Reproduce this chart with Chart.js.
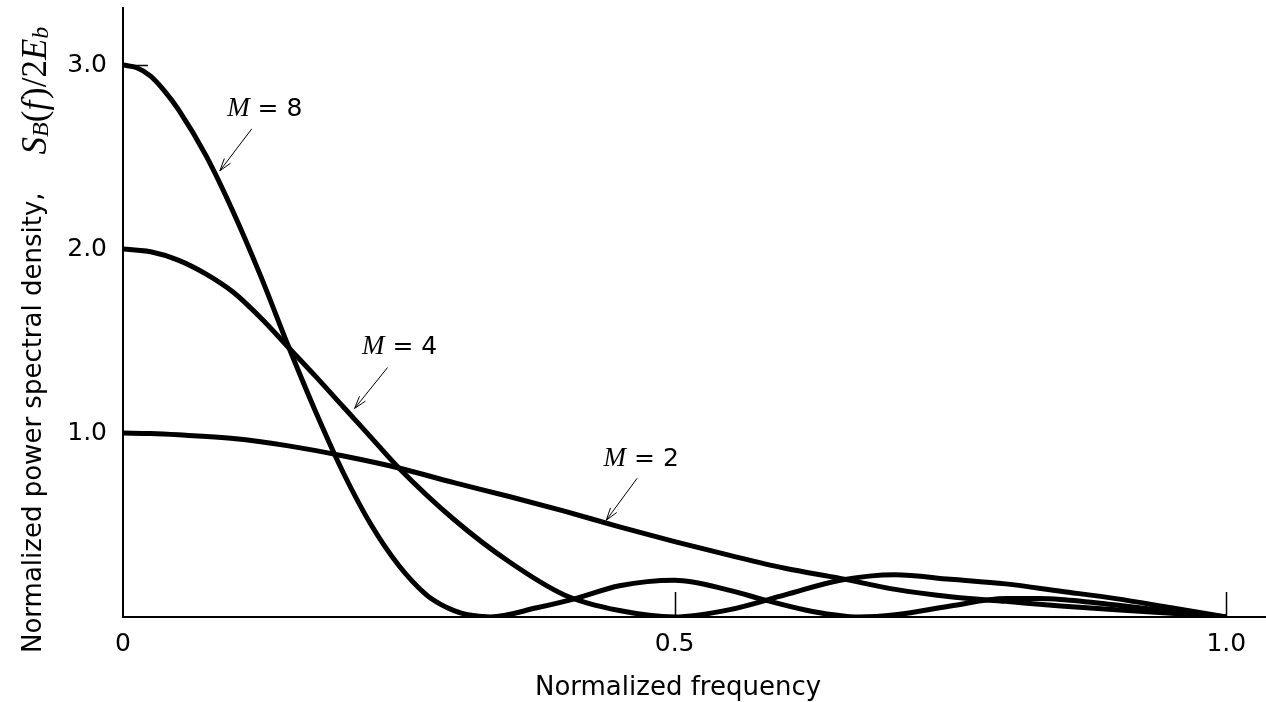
<!DOCTYPE html>
<html>
<head>
<meta charset="utf-8">
<script src="https://cdn.jsdelivr.net/npm/chart.js@4.4.1/dist/chart.umd.min.js"></script>
<style>
  html, body { margin: 0; padding: 0; background: #fff; }
  #psdChart { display: block; }
</style>
</head>
<body>
<canvas id="psdChart" width="1266" height="702"></canvas>
<script>
// Normalized power spectral density vs normalized frequency, M = 2, 4, 8
// values

const freqM2 = [0, 0.025, 0.05, 0.1, 0.15, 0.2, 0.25, 0.3, 0.35, 0.4, 0.45, 0.5,
                0.55, 0.6, 0.65, 0.7, 0.75, 0.8, 0.85, 0.9, 0.95, 1.0];
const psdM2 = [1.0, 0.997, 0.99, 0.97, 0.93, 0.875, 0.81, 0.73, 0.655, 0.575, 0.49, 0.41,
               0.335, 0.265, 0.21, 0.15, 0.11, 0.085, 0.06, 0.04, 0.02, 0.0];

const freqM4 = [0, 0.025, 0.05, 0.075, 0.1, 0.125, 0.15, 0.175, 0.2, 0.225, 0.25, 0.3, 0.35, 0.4, 0.45, 0.5,
                0.55, 0.6, 0.65, 0.7, 0.75, 0.8, 0.85, 0.9, 0.95, 1.0];
const psdM4 = [2.0, 1.985, 1.94, 1.865, 1.765, 1.625, 1.465, 1.305, 1.14, 0.975, 0.81, 0.53, 0.30, 0.12, 0.035, 0.0,
               0.04, 0.12, 0.20, 0.23, 0.205, 0.18, 0.14, 0.10, 0.05, 0.0];

const freqM8 = [0, 0.0125, 0.025, 0.0375, 0.05, 0.075, 0.1, 0.125, 0.15, 0.175, 0.2, 0.225, 0.25, 0.275, 0.2875, 0.3, 0.3125, 0.333,
                0.375, 0.41, 0.45, 0.5, 0.55, 0.583, 0.625, 0.667,
                0.7, 0.75, 0.8, 0.83, 0.85, 0.9, 0.95, 1.0];
const psdM8 = [3.0, 2.985, 2.94, 2.86, 2.76, 2.51, 2.20, 1.85, 1.47, 1.11, 0.78, 0.50, 0.28, 0.12, 0.07, 0.035, 0.012, 0.0,
               0.05, 0.10, 0.17, 0.20, 0.145, 0.09, 0.03, 0.0,
               0.012, 0.06, 0.10, 0.10, 0.095, 0.065, 0.03, 0.0];

const seriesM = ['2', '4', '8'];

const xTickValues = [0, 0.5, 1.0];
const xTickLabels = ['0', '0.5', '1.0'];
const yTickValues = [1, 2, 3];
const yTickLabels = ['1.0', '2.0', '3.0'];

const xTitle = 'Normalized frequency';
const yTitle = 'Normalized power spectral density,';
// S_B(f)/2E_b
const yTitleMath = [
    { t: 'S', italic: true },
    { t: 'B', italic: true, sub: true },
    { t: '(', italic: false },
    { t: 'f', italic: true },
    { t: ')/2', italic: false },
    { t: 'E', italic: true },
    { t: 'b', italic: true, sub: true }
];

// callout placement in data coordinates (label centre, arrow tail, arrow tip)
const callouts = {
    '8': { label: [0.1285, 2.773], tail: [0.1167, 2.653], tip: [0.0878, 2.425] },
    '4': { label: [0.2507, 1.476], tail: [0.2398, 1.356], tip: [0.2100, 1.134] },
    '2': { label: [0.4697, 0.868], tail: [0.4660, 0.754], tip: [0.4380, 0.526] }
};

const SANS = "'DejaVu Sans', sans-serif";
const SERIF = "'Liberation Serif', 'DejaVu Serif', serif";

function toPoints(xs, ys) {
    return xs.map((x, i) => ({ x: x, y: ys[i] }));
}

function curve(m, xs, ys) {
    return {
        label: 'M = ' + m,
        data: toPoints(xs, ys),
        borderColor: '#000',
        borderWidth: 5,
        pointRadius: 0,
        fill: false,
        cubicInterpolationMode: 'monotone'
    };
}

function drawArrow(ctx, x1, y1, x2, y2) {
    ctx.beginPath();
    ctx.moveTo(x1, y1);
    ctx.lineTo(x2, y2);
    ctx.stroke();
    const a = Math.atan2(y2 - y1, x2 - x1);
    const len = 13, spread = 0.3;
    ctx.beginPath();
    ctx.moveTo(x2 - len * Math.cos(a - spread), y2 - len * Math.sin(a - spread));
    ctx.lineTo(x2, y2);
    ctx.lineTo(x2 - len * Math.cos(a + spread), y2 - len * Math.sin(a + spread));
    ctx.stroke();
}

const figurePlugin = {
    id: 'figureExtras',
    beforeDatasetsDraw(chart) {
        // inward tick marks
        const ctx = chart.ctx;
        const xs = chart.scales.x, ys = chart.scales.y;
        const area = chart.chartArea;
        ctx.save();
        ctx.strokeStyle = '#000';
        ctx.lineWidth = 1.5;
        xTickValues.forEach(v => {
            if (v === 0) return;
            const px = Math.round(xs.getPixelForValue(v)) + 0.5;
            ctx.beginPath();
            ctx.moveTo(px, area.bottom);
            ctx.lineTo(px, area.bottom - 25);
            ctx.stroke();
        });
        yTickValues.forEach(v => {
            const py = Math.round(ys.getPixelForValue(v)) + 0.5;
            ctx.beginPath();
            ctx.moveTo(area.left, py);
            ctx.lineTo(area.left + 25, py);
            ctx.stroke();
        });
        ctx.restore();
    },
    afterDraw(chart) {
        const ctx = chart.ctx;
        const xs = chart.scales.x, ys = chart.scales.y;
        ctx.save();
        ctx.fillStyle = '#000';
        ctx.strokeStyle = '#000';

        // callouts "M = n" with arrows
        seriesM.forEach(m => {
            const c = callouts[m];
            const cx = xs.getPixelForValue(c.label[0]);
            const cy = ys.getPixelForValue(c.label[1]);
            const fontM = 'italic 27px ' + SERIF;
            const fontRest = '25px ' + SANS;
            const rest = ' = ' + m;
            ctx.font = fontM;
            const wM = ctx.measureText('M').width;
            ctx.font = fontRest;
            const wR = ctx.measureText(rest).width;
            const x0 = cx - (wM + wR) / 2;
            const base = cy + 9;
            ctx.textAlign = 'left';
            ctx.textBaseline = 'alphabetic';
            ctx.font = fontM;
            ctx.fillText('M', x0, base);
            ctx.font = fontRest;
            ctx.fillText(rest, x0 + wM, base);

            ctx.lineWidth = 1;
            drawArrow(ctx,
                xs.getPixelForValue(c.tail[0]), ys.getPixelForValue(c.tail[1]),
                xs.getPixelForValue(c.tip[0]), ys.getPixelForValue(c.tip[1]));
        });

        // x axis title
        ctx.font = '26px ' + SANS;
        ctx.textAlign = 'center';
        ctx.textBaseline = 'alphabetic';
        ctx.fillText(xTitle, 678, 695);

        // y axis title, rotated, with the math part
        ctx.translate(41, 653);
        ctx.rotate(-Math.PI / 2);
        ctx.textAlign = 'left';
        ctx.font = '26px ' + SANS;
        ctx.fillText(yTitle, 0, 0);
        let x = ctx.measureText(yTitle).width + 38;
        yTitleMath.forEach(p => {
            ctx.font = (p.italic ? 'italic ' : '') + (p.sub ? 24 : 35) + 'px ' + SERIF;
            ctx.fillText(p.t, x, p.sub ? 7 : 5);
            x += ctx.measureText(p.t).width + (p.t === 'f' ? 2 : 0);
        });
        ctx.restore();
    }
};

const psdConfig = {
    type: 'line',
    data: {
        datasets: [
            curve(seriesM[0], freqM2, psdM2),
            curve(seriesM[1], freqM4, psdM4),
            curve(seriesM[2], freqM8, psdM8)
        ]
    },
    options: {
        responsive: false,
        devicePixelRatio: 1,
        animation: false,
        layout: { padding: { top: 8, left: 0, right: 0, bottom: 0 } },
        plugins: {
            legend: { display: false },
            tooltip: { enabled: false }
        },
        scales: {
            x: {
                type: 'linear',
                min: 0,
                max: 1.036,
                afterBuildTicks: s => { s.ticks = xTickValues.map(v => ({ value: v })); },
                afterFit: s => {
                    s.height = 85;
                    s.paddingLeft = 0;
                    s.paddingRight = 0;
                },
                grid: { display: false, drawTicks: false },
                border: { display: true, color: '#000', width: 2 },
                ticks: {
                    color: '#000',
                    font: { family: SANS, size: 25 },
                    padding: 12,
                    maxRotation: 0,
                    callback: (v, i) => xTickLabels[i]
                }
            },
            y: {
                type: 'linear',
                min: 0,
                max: 3.31,
                afterBuildTicks: s => { s.ticks = yTickValues.map(v => ({ value: v })); },
                afterFit: s => {
                    s.width = 123;
                    s.paddingTop = 0;
                    s.paddingBottom = 0;
                },
                grid: { display: false, drawTicks: false },
                border: { display: true, color: '#000', width: 2 },
                ticks: {
                    color: '#000',
                    font: { family: SANS, size: 25 },
                    padding: 16,
                    callback: (v, i) => yTickLabels[i]
                }
            }
        }
    },
    plugins: [figurePlugin]
};

new Chart(document.getElementById('psdChart'), psdConfig);
</script>
</body>
</html>
